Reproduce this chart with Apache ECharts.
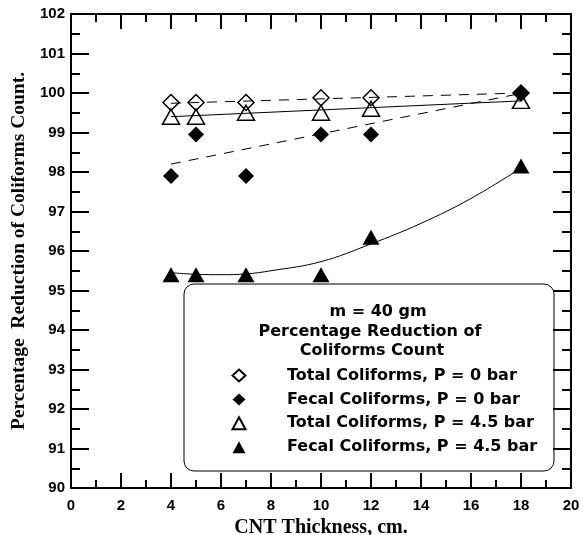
<!DOCTYPE html>
<html>
<head>
<meta charset="utf-8">
<script src="https://cdn.jsdelivr.net/npm/echarts@6/dist/echarts.min.js"></script>
<style>
  html, body { margin: 0; padding: 0; background: #fff; }
  #chart { width: 585px; height: 535px; }
</style>
</head>
<body>
<div id="chart"></div>
<script>
// CNT thickness (cm) at which each sample was measured
const thickness = [4, 5, 7, 10, 12, 18];

// Percentage reduction of coliforms count
const totalP0 = [99.76, 99.76, 99.76, 99.88, 99.88, 100.0];
const fecalP0 = [97.9, 98.95, 97.9, 98.95, 98.95, 100.0];
const totalP45 = [99.4, 99.4, 99.5, 99.5, 99.6, 99.8];
const fecalP45 = [95.4, 95.4, 95.4, 95.4, 96.35, 98.15];

// Trend lines (endpoints of the straight fits, sampled points of the curve)
const trendX = [4, 18];
const trendTotalP0 = [99.74, 100.0];
const trendFecalP0 = [98.2, 99.99];
const trendTotalP45 = [99.4, 99.8];
const curveX = [4, 5, 6, 7, 8, 10, 12, 14, 16, 18];
const curveFecalP45 = [95.45, 95.41, 95.40, 95.42, 95.5, 95.73, 96.18, 96.7, 97.33, 98.1];

const seriesNames = [
  'Total Coliforms, P = 0 bar',
  'Fecal Coliforms, P = 0 bar',
  'Total Coliforms, P = 4.5 bar',
  'Fecal Coliforms, P = 4.5 bar'
];
const boxTitle = ['m = 40 gm', 'Percentage Reduction of', 'Coliforms Count'];

const pairs = (xs, ys) => xs.map((x, i) => [x, ys[i]]);

const chart = echarts.init(document.getElementById('chart'), null, { renderer: 'canvas' });

const tickFont = { color: '#000', fontFamily: '"Liberation Sans", Arial, sans-serif', fontWeight: 'bold', fontSize: 15 };
const titleFont = { color: '#000', fontFamily: '"Liberation Serif", "Times New Roman", serif', fontWeight: 'bold' };

function xAx(pos, showLabel) {
  return {
    type: 'value', position: pos, min: 0, max: 20, interval: 2,
    axisLine: { show: true, onZero: false, lineStyle: { color: '#000', width: 2 } },
    axisTick: { show: true, inside: true, length: 15, lineStyle: { color: '#000', width: 2 } },
    minorTick: { show: true, splitNumber: 2, length: 8, lineStyle: { color: '#000', width: 2 } },
    splitLine: { show: false },
    axisLabel: Object.assign({ show: showLabel, margin: 10 }, tickFont),
    name: showLabel ? 'CNT Thickness, cm.' : '',
    nameLocation: 'middle', nameGap: 28,
    nameTextStyle: Object.assign({ fontSize: 20 }, titleFont)
  };
}
function yAx(pos, showLabel) {
  return {
    type: 'value', position: pos, min: 90, max: 102, interval: 1,
    axisLine: { show: true, onZero: false, lineStyle: { color: '#000', width: 2 } },
    axisTick: { show: true, inside: true, length: 18, lineStyle: { color: '#000', width: 2 } },
    minorTick: { show: true, splitNumber: 2, length: 9, lineStyle: { color: '#000', width: 2 } },
    splitLine: { show: false },
    axisLabel: Object.assign({ show: showLabel, margin: 6 }, tickFont),
    name: showLabel ? 'Percentage  Reduction of Coliforms Count.' : '',
    nameLocation: 'middle', nameGap: 41,
    nameTextStyle: Object.assign({ fontSize: 19.5 }, titleFont)
  };
}

const hollow = { color: 'rgba(255,255,255,0)', borderColor: '#000', borderWidth: 1.5, opacity: 1 };
const solid = { color: '#000', borderColor: '#000', borderWidth: 0, opacity: 1 };

function trend(xs, ys, dashed, smooth) {
  return {
    type: 'line', data: pairs(xs, ys), showSymbol: false, symbol: 'none', smooth: smooth ? 0.4 : false,
    silent: true, z: 1,
    lineStyle: { color: '#000', width: 1, type: dashed ? [10, 8] : 'solid' }
  };
}

const boxFont = 'bold 16px "DejaVu Sans", "Liberation Sans", sans-serif';

chart.setOption({
  animation: false,
  backgroundColor: '#fff',
  grid: { left: 71, right: 14, top: 14, bottom: 47, containLabel: false, outerBoundsMode: 'none' },
  xAxis: [xAx('bottom', true), xAx('top', false)],
  yAxis: [yAx('left', true), yAx('right', false)],
  legend: {
    data: seriesNames, orient: 'vertical', left: 231.5, top: 367.5,
    itemWidth: 13, itemHeight: 12, itemGap: 7.9, padding: 0,
    selectedMode: false,
    textStyle: {
      color: '#000', fontFamily: '"DejaVu Sans", "Liberation Sans", sans-serif',
      fontWeight: 'bold', fontSize: 16, lineHeight: 14, padding: [0, 0, 0, 36.5]
    }
  },
  graphic: [
    { type: 'rect', z: 0,
      shape: { x: 184, y: 284, width: 370, height: 187, r: 10 },
      style: { fill: '#fff', stroke: '#000', lineWidth: 1 } },
    { type: 'text', z: 2, style: { text: boxTitle[0], x: 378, y: 312, textAlign: 'center', textVerticalAlign: 'middle', fill: '#000', font: boxFont } },
    { type: 'text', z: 2, style: { text: boxTitle[1], x: 370, y: 332, textAlign: 'center', textVerticalAlign: 'middle', fill: '#000', font: boxFont } },
    { type: 'text', z: 2, style: { text: boxTitle[2], x: 372, y: 351, textAlign: 'center', textVerticalAlign: 'middle', fill: '#000', font: boxFont } }
  ],
  series: [
    trend(trendX, trendTotalP0, true, false),
    trend(trendX, trendFecalP0, true, false),
    trend(trendX, trendTotalP45, false, false),
    trend(curveX, curveFecalP45, false, true),
    { name: seriesNames[0], type: 'scatter', data: pairs(thickness, totalP0), symbol: 'diamond', symbolSize: [16, 16], itemStyle: hollow, z: 3 },
    { name: seriesNames[1], type: 'scatter', data: pairs(thickness, fecalP0), symbol: 'diamond', symbolSize: [16, 16], itemStyle: solid, z: 4 },
    { name: seriesNames[2], type: 'scatter', data: pairs(thickness, totalP45), symbol: 'triangle', symbolSize: [17, 15], itemStyle: hollow, z: 5 },
    { name: seriesNames[3], type: 'scatter', data: pairs(thickness, fecalP45), symbol: 'triangle', symbolSize: [17, 15], itemStyle: solid, z: 6 }
  ]
});
</script>
</body>
</html>
